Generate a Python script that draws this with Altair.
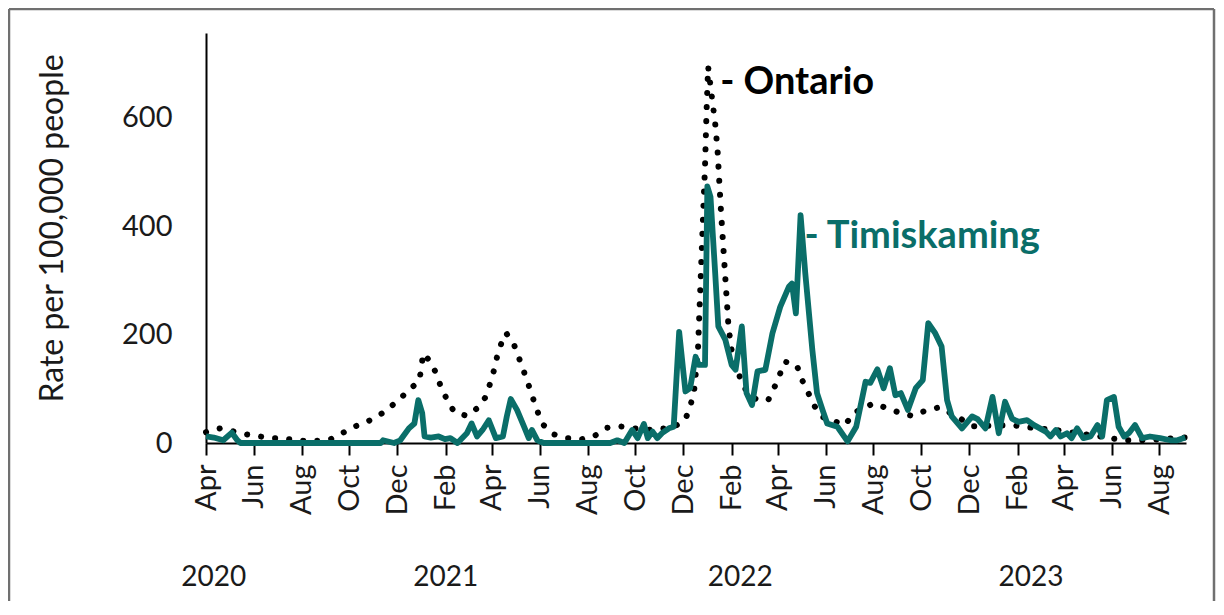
import altair as alt
import pandas as pd

BASE = pd.Timestamp("2020-04-01")
FONT = "Lato"
TEAL = "#0A6E69"
TXT = "#1a1a1a"

# Timiskaming weekly rate (days after 2020-04-01, value)
tim_days = [0, 10, 22, 33, 40, 44, 223, 226, 240, 248, 259, 266, 271, 276, 279, 287, 297, 305, 312, 321,
            333, 339, 346, 353, 361, 370, 379, 384, 389, 397, 406, 412, 416, 423, 431, 516, 525, 534, 544, 551,
            559, 564, 570, 576, 582, 591, 597, 604, 612, 618, 625, 629, 637, 640, 644, 650, 654, 663, 671, 676,
            684, 690, 697, 704, 714, 723, 733, 744, 748, 753, 759, 765, 774, 780, 787, 793, 806, 819, 830, 842,
            848, 857, 865, 873, 880, 887, 896, 906, 915, 922, 931, 939, 946, 952, 965, 978, 985, 995, 1004, 1012,
            1020, 1029, 1037, 1048, 1057, 1072, 1078, 1085, 1091, 1099, 1105, 1112, 1120, 1129, 1138, 1144, 1150, 1159, 1165, 1172,
            1178, 1186, 1195, 1205, 1218, 1231, 1240, 1250]
tim_vals = [12, 10, 5, 19, 5, 0, 0, 5, 0, 5, 27, 36, 79, 55, 12, 10, 12, 7, 9, 0,
            18, 36, 12, 24, 42, 9, 12, 49, 81, 61, 30, 9, 24, 5, 0, 0, 5, 0, 24, 9,
            35, 9, 21, 9, 18, 27, 30, 205, 95, 101, 159, 144, 144, 473, 454, 313, 215, 190, 144, 135,
            215, 92, 70, 132, 135, 202, 251, 288, 294, 239, 420, 313, 172, 92, 61, 36, 30, 3, 30, 113,
            111, 136, 101, 138, 88, 92, 61, 101, 116, 221, 202, 178, 79, 49, 27, 49, 44, 27, 85, 18,
            76, 45, 39, 42, 33, 21, 12, 24, 12, 18, 9, 27, 9, 12, 33, 12, 79, 85, 30, 12,
            18, 33, 9, 12, 9, 5, 5, 10]

# Ontario weekly rate (days after 2020-04-01, value)
ont_days = [0, 18, 51, 69, 87, 105, 124, 141, 159, 175, 191, 208, 223, 235, 248, 260, 272, 275, 277, 286,
            294, 300, 308, 317, 333, 348, 357, 363, 368, 372, 378, 383, 393, 400, 406, 412, 418, 424, 431, 444,
            461, 480, 496, 511, 527, 545, 570, 597, 612, 618, 623, 628, 635, 637, 639, 641, 650, 653, 657, 662,
            667, 671, 682, 691, 704, 718, 728, 739, 754, 761, 769, 776, 785, 816, 826, 852, 870, 887, 902, 919,
            937, 980, 1029, 1048, 1085, 1155, 1172, 1188, 1220, 1244, 1250]
ont_vals = [20, 27, 16, 12, 9, 7, 4, 4, 7, 19, 31, 41, 53, 66, 82, 99, 114, 138, 165, 151,
            128, 103, 79, 57, 50, 66, 85, 111, 136, 162, 188, 203, 182, 155, 131, 106, 80, 55, 33, 16,
            9, 7, 13, 28, 31, 27, 24, 29, 44, 67, 95, 171, 436, 509, 614, 694, 589, 540, 436, 325,
            214, 171, 119, 92, 79, 80, 110, 150, 144, 116, 92, 70, 49, 33, 55, 73, 64, 55, 50, 60,
            66, 31, 33, 29, 24, 9, 5, 5, 7, 10, 10]

# axis ticks (every second month)
tick_years = [2020, 2020, 2020, 2020, 2020, 2021, 2021, 2021, 2021, 2021, 2021,
              2022, 2022, 2022, 2022, 2022, 2022, 2023, 2023, 2023, 2023]
tick_months = [4, 6, 8, 10, 12, 2, 4, 6, 8, 10, 12, 2, 4, 6, 8, 10, 12, 2, 4, 6, 8]
y_ticks = [0, 200, 400, 600]

year_text = ["2020", "2021", "2022", "2023"]
year_days = [10, 306, 682, 1053]

label_text = ["- Ontario", "- Timiskaming"]
label_days = [641, 759]
label_vals = [664, 380]

tim = pd.DataFrame({"date": BASE + pd.to_timedelta(tim_days, unit="D"), "value": tim_vals})
ont = pd.DataFrame({"date": BASE + pd.to_timedelta(ont_days, unit="D"), "value": ont_vals})
years = pd.DataFrame({"date": BASE + pd.to_timedelta(year_days, unit="D"), "text": year_text})
lab_o = pd.DataFrame({"date": [BASE + pd.Timedelta(days=label_days[0])], "value": [label_vals[0]], "text": [label_text[0]]})
lab_t = pd.DataFrame({"date": [BASE + pd.Timedelta(days=label_days[1])], "value": [label_vals[1]], "text": [label_text[1]]})
one = pd.DataFrame({"a": [0]})

xscale = alt.Scale(domain=[alt.DateTime(year=2020, month=4, date=1),
                           alt.DateTime(year=2023, month=9, date=4)], nice=False)
yscale = alt.Scale(domain=[0, 756], nice=False)

xaxis = alt.Axis(values=[alt.DateTime(year=y, month=m, date=1) for y, m in zip(tick_years, tick_months)],
                 format="%b", labelAngle=-90, labelFont=FONT, labelFontSize=29, labelColor=TXT,
                 tickSize=12, tickWidth=2, tickColor="black", domainColor="black", domainWidth=2,
                 labelPadding=9, grid=False, title=None, labelOverlap=False, labelFlush=False)
yaxis = alt.Axis(values=y_ticks, title="Rate per 100,000 people", titleFont=FONT, titleFontSize=32,
                 titleFontWeight="normal", titleColor=TXT, titleX=-154, titleY=195, titleAngle=-90,
                 titleAlign="center", titleBaseline="middle",
                 labelFont=FONT, labelFontSize=29, labelColor=TXT, labelPadding=34, ticks=False,
                 domainColor="black", domainWidth=2, grid=False)

X = alt.X("date:T", scale=xscale, axis=xaxis)
Y = alt.Y("value:Q", scale=yscale, axis=yaxis)

ont_line = alt.Chart(ont).mark_line(color="black", strokeWidth=6, strokeDash=[0.1, 14],
                                    strokeCap="round").encode(x=X, y=Y)
tim_line = alt.Chart(tim).mark_line(color=TEAL, strokeWidth=5.8, strokeJoin="round").encode(
    x=alt.X("date:T", scale=xscale), y=alt.Y("value:Q", scale=yscale))

ont_lab = alt.Chart(lab_o).mark_text(align="left", baseline="middle", dx=12, font=FONT, fontSize=38,
                                     fontWeight="bold", color="black").encode(
    x="date:T", y="value:Q", text="text:N")
tim_lab = alt.Chart(lab_t).mark_text(align="left", baseline="middle", dx=4, font=FONT, fontSize=38,
                                     fontWeight="bold", color=TEAL).encode(
    x="date:T", y="value:Q", text="text:N")

year_lab = alt.Chart(years).mark_text(align="center", baseline="middle", font=FONT, fontSize=28,
                                      color=TXT).encode(x="date:T", y=alt.value(545), text="text:N")

frame_l = alt.Chart(one).mark_rule(color="#707070", strokeWidth=2.5).encode(
    x=alt.value(-197), y=alt.value(-24), y2=alt.value(600))
frame_t = alt.Chart(one).mark_rule(color="#707070", strokeWidth=2.5).encode(
    x=alt.value(-197), x2=alt.value(1008), y=alt.value(-24))
frame_r = alt.Chart(one).mark_rule(color="#707070", strokeWidth=2.5).encode(
    x=alt.value(1008), y=alt.value(-24), y2=alt.value(600))

chart = alt.layer(ont_line, tim_line, ont_lab, tim_lab, year_lab, frame_l, frame_t, frame_r).properties(
    width=980, height=410,
    padding={"left": 198, "top": 25, "right": 30, "bottom": 158},
    autosize=alt.AutoSizeParams(type="none"),
    background="white",
).configure_view(stroke=None)

chart.save("out.html", embed_options={"renderer": "svg", "actions": False})
